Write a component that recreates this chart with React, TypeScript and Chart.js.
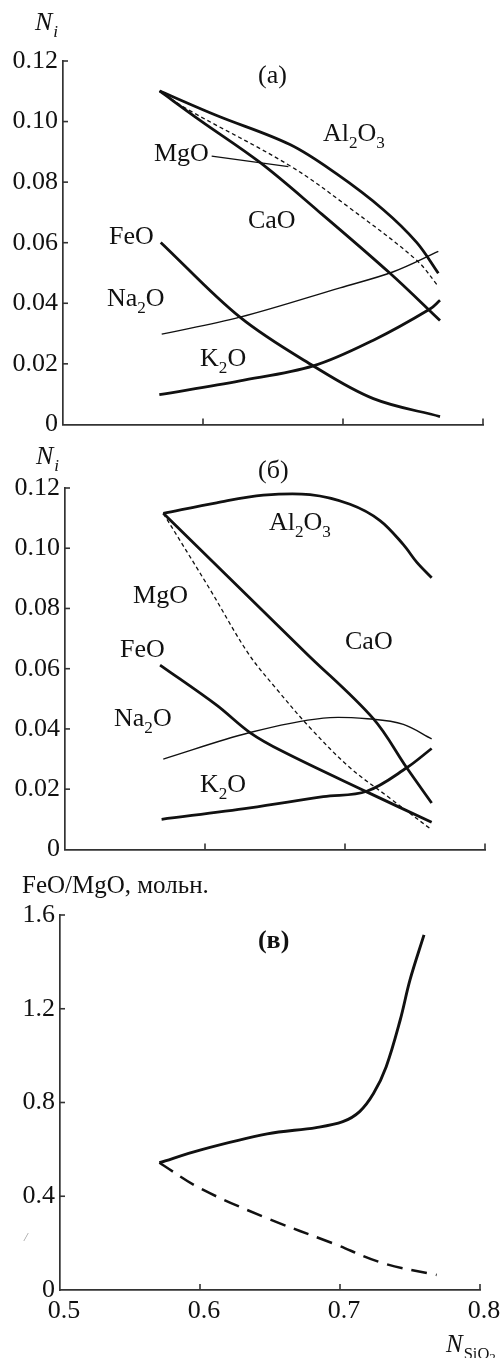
import React, { useEffect, useRef } from 'react';
import { Chart, registerables } from 'chart.js';

Chart.register(...registerables);

const FONT = '"Liberation Serif", "Times New Roman", serif';
const INK = '#111111';
const AXIS = '#333333';
const FS = 26;

// ---- tick values ----
const yTicksNi = [0, 0.02, 0.04, 0.06, 0.08, 0.1, 0.12];
const yTicksRatio = [0, 0.4, 0.8, 1.2, 1.6];
const xTicks = [0.5, 0.6, 0.7, 0.8];

// ---- panel (а) ----
const aAl2O3X = [0.569, 0.6098, 0.6621, 0.6955, 0.7288, 0.7526, 0.7681];
const aAl2O3Y = [0.1101, 0.102, 0.0924, 0.0827, 0.0709, 0.0601, 0.0499];
const aCaOX = [0.569, 0.5979, 0.6407, 0.6812, 0.7336, 0.7693];
const aCaOY = [0.1101, 0.1004, 0.0865, 0.0709, 0.0499, 0.0343];
const aMgOX = [0.569, 0.5883, 0.6621, 0.705, 0.7526, 0.7681];
const aMgOY = [0.1101, 0.1042, 0.0854, 0.0714, 0.0542, 0.0456];
const aFeOX = [0.5698, 0.6264, 0.6788, 0.7217, 0.7693];
const aFeOY = [0.0601, 0.0354, 0.0193, 0.0085, 0.0026];
const aNa2OX = [0.5705, 0.6264, 0.6979, 0.736, 0.7681];
const aNa2OY = [0.0298, 0.0354, 0.0451, 0.0504, 0.0571];
const aK2OX = [0.5688, 0.6264, 0.6788, 0.7217, 0.7621, 0.7693];
const aK2OY = [0.0098, 0.0144, 0.0193, 0.0278, 0.0381, 0.041];

// ---- panel (б) ----
const bAl2O3X = [0.5702, 0.6083, 0.6417, 0.675, 0.7036, 0.725, 0.7417, 0.7512, 0.7619];
const bAl2O3Y = [0.1116, 0.1151, 0.1176, 0.1178, 0.1146, 0.1092, 0.1012, 0.0954, 0.0902];
const bCaOX = [0.5702, 0.6726, 0.7202, 0.7441, 0.7619];
const bCaOY = [0.1116, 0.065, 0.0434, 0.0271, 0.0154];
const bMgOX = [0.5702, 0.6036, 0.631, 0.6512, 0.675, 0.7036, 0.7321, 0.7619];
const bMgOY = [0.1116, 0.0863, 0.065, 0.0532, 0.0404, 0.0271, 0.017, 0.0065];
const bFeOX = [0.5679, 0.6083, 0.6321, 0.656, 0.7155, 0.7619];
const bFeOY = [0.0612, 0.0479, 0.0388, 0.0324, 0.0191, 0.009];
const bNa2OX = [0.5702, 0.6321, 0.6845, 0.7202, 0.7417, 0.7619];
const bNa2OY = [0.03, 0.0388, 0.0436, 0.0432, 0.0415, 0.0367];
const bK2OX = [0.569, 0.6321, 0.6845, 0.7155, 0.7441, 0.7619];
const bK2OY = [0.01, 0.0138, 0.0175, 0.0193, 0.0271, 0.0335];

// ---- panel (в) ----
const cSolidX = [0.571, 0.6, 0.648, 0.683, 0.702, 0.714, 0.724, 0.733, 0.743, 0.75, 0.76];
const cSolidY = [0.543, 0.597, 0.666, 0.693, 0.718, 0.761, 0.839, 0.953, 1.152, 1.323, 1.515];
const cDashX = [0.571, 0.6, 0.648, 0.695, 0.731, 0.769];
const cDashY = [0.543, 0.434, 0.306, 0.199, 0.114, 0.064];

// ---- curve labels (data coordinates) ----
const aLabels = [
  { t: '(а)', x: 0.6393, y: 0.1129 },
  { t: 'Al_2O_3', x: 0.6857, y: 0.0935 },
  { t: 'MgO', x: 0.565, y: 0.0871 },
  { t: 'CaO', x: 0.6321, y: 0.0648 },
  { t: 'FeO', x: 0.5329, y: 0.0597 },
  { t: 'Na_2O', x: 0.5314, y: 0.039 },
  { t: 'K_2O', x: 0.5979, y: 0.0194 },
];
const aLeaderX = [0.6062, 0.661];
const aLeaderY = [0.0886, 0.0851];
const bLabels = [
  { t: '(б)', x: 0.6379, y: 0.1232 },
  { t: 'Al_2O_3', x: 0.6457, y: 0.1059 },
  { t: 'MgO', x: 0.5486, y: 0.0819 },
  { t: 'CaO', x: 0.7, y: 0.0666 },
  { t: 'FeO', x: 0.5393, y: 0.064 },
  { t: 'Na_2O', x: 0.535, y: 0.041 },
  { t: 'K_2O', x: 0.5964, y: 0.0189 },
];
const cLabels = [{ t: '(в)', x: 0.6414, y: 1.459, bold: true }];

type Run = { t: string; sub?: number; it?: boolean };

function parseRuns(s: string): Run[] {
  const out: Run[] = [];
  let buf = '';
  for (let i = 0; i < s.length; i++) {
    if (s[i] === '_' && i + 1 < s.length) {
      if (buf) out.push({ t: buf });
      buf = '';
      out.push({ t: s[i + 1], sub: 1 });
      i++;
    } else buf += s[i];
  }
  if (buf) out.push({ t: buf });
  return out;
}

function drawRich(ctx: CanvasRenderingContext2D, x: number, y: number, runs: Run[], size: number, bold?: boolean) {
  let cx = x;
  for (const r of runs) {
    const lvl = r.sub || 0;
    const fs = lvl === 0 ? size : lvl === 1 ? size * 0.66 : size * 0.52;
    const dy = lvl === 0 ? 0 : lvl === 1 ? size * 0.27 : size * 0.4;
    ctx.font = `${r.it ? 'italic ' : ''}${bold ? 'bold ' : ''}${fs}px ${FONT}`;
    ctx.fillText(r.t, cx, y + dy);
    cx += ctx.measureText(r.t).width + (r.it && lvl === 0 ? 1 : 0);
  }
}

const annotPlugin = {
  id: 'annot',
  afterDraw(chart: any, _a: any, opts: any) {
    const ctx: CanvasRenderingContext2D = chart.ctx;
    const { left, top, bottom, right } = chart.chartArea;
    const xs = chart.scales.x;
    const ys = chart.scales.y;
    ctx.save();
    ctx.strokeStyle = AXIS;
    ctx.lineWidth = 1.6;
    ys.ticks.forEach((t: any) => {
      if (Math.abs(t.value - ys.min) < 1e-9) return;
      const py = ys.getPixelForValue(t.value);
      ctx.beginPath();
      ctx.moveTo(left, py);
      ctx.lineTo(left + 5, py);
      ctx.stroke();
    });
    xs.ticks.forEach((t: any) => {
      if (Math.abs(t.value - xs.min) < 1e-9) return;
      const px = xs.getPixelForValue(t.value);
      ctx.beginPath();
      ctx.moveTo(px, bottom);
      ctx.lineTo(px, bottom - 6);
      ctx.stroke();
    });
    if (opts.leaderX) {
      ctx.strokeStyle = INK;
      ctx.lineWidth = 1.3;
      ctx.beginPath();
      ctx.moveTo(xs.getPixelForValue(opts.leaderX[0]), ys.getPixelForValue(opts.leaderY[0]));
      ctx.lineTo(xs.getPixelForValue(opts.leaderX[1]), ys.getPixelForValue(opts.leaderY[1]));
      ctx.stroke();
    }
    ctx.fillStyle = INK;
    ctx.textAlign = 'left';
    ctx.textBaseline = 'alphabetic';
    (opts.labels || []).forEach((l: any) => {
      drawRich(ctx, xs.getPixelForValue(l.x), ys.getPixelForValue(l.y), parseRuns(l.t), FS, l.bold);
    });
    if (opts.yTitle === 'Ni') {
      drawRich(ctx, left + opts.tdx, top + opts.tdy, [{ t: 'N', it: true }, { t: 'i', it: true, sub: 1 }], FS);
    } else if (opts.yTitle) {
      drawRich(ctx, left + opts.tdx, top + opts.tdy, [{ t: opts.yTitle }], 25);
    }
    if (opts.xTitle) {
      drawRich(ctx, right - 34, bottom + 62, [{ t: 'N', it: true }, { t: 'SiO', sub: 1 }, { t: '2', sub: 2 }], 25);
    }
    if (opts.stray) {
      ctx.fillStyle = '#9a9a9a';
      ctx.font = `italic 13px ${FONT}`;
      ctx.fillText('/', left - 36, top + 326);
    }
    ctx.restore();
  },
};

function pts(xs: number[], ys: number[]) {
  return xs.map((x, i) => ({ x, y: ys[i] }));
}

function ds(xs: number[], ys: number[], width: number, dash: number[] = []) {
  return {
    data: pts(xs, ys),
    borderColor: INK,
    borderWidth: width,
    borderDash: dash,
    pointRadius: 0,
    showLine: true,
    fill: false,
    tension: 0.35,
  };
}

type PanelCfg = {
  height: number;
  padTop: number;
  padRight: number;
  yW: number;
  xH: number;
  yMax: number;
  yTicks: number[];
  yDigits: number;
  showXLabels: boolean;
  datasets: any[];
  annot: any;
};

function Panel({ cfg, top }: { cfg: PanelCfg; top: number }) {
  const ref = useRef<HTMLCanvasElement | null>(null);
  useEffect(() => {
    if (!ref.current) return;
    const chart = new Chart(ref.current, {
      type: 'scatter',
      data: { datasets: cfg.datasets },
      plugins: [annotPlugin as any],
      options: {
        animation: false,
        responsive: false,
        maintainAspectRatio: false,
        layout: { padding: { top: cfg.padTop, right: cfg.padRight, left: 0, bottom: 0 } },
        plugins: {
          legend: { display: false },
          tooltip: { enabled: false },
          annot: cfg.annot,
        } as any,
        scales: {
          x: {
            type: 'linear',
            min: 0.5,
            max: 0.8,
            afterBuildTicks: (s: any) => {
              s.ticks = xTicks.map((v) => ({ value: v }));
            },
            afterFit: (s: any) => {
              s.height = cfg.xH;
            },
            grid: { display: false, drawTicks: false },
            border: { display: true, color: AXIS, width: 1.7 },
            ticks: {
              display: cfg.showXLabels,
              color: INK,
              padding: 6,
              labelOffset: 4,
              maxRotation: 0,
              font: { family: FONT, size: FS },
              callback: (v: any) => Number(v).toFixed(1),
            },
          },
          y: {
            type: 'linear',
            min: 0,
            max: cfg.yMax,
            afterBuildTicks: (s: any) => {
              s.ticks = cfg.yTicks.map((v) => ({ value: v }));
            },
            afterFit: (s: any) => {
              s.width = cfg.yW;
            },
            grid: { display: false, drawTicks: false },
            border: { display: true, color: AXIS, width: 1.7 },
            ticks: {
              color: INK,
              padding: 5,
              font: { family: FONT, size: FS },
              callback: (v: any) => (Number(v) === 0 ? '0' : Number(v).toFixed(cfg.yDigits)),
            },
          },
        },
      },
    });
    return () => chart.destroy();
  }, []);
  return (
    <canvas
      ref={ref}
      width={504}
      height={cfg.height}
      style={{ position: 'absolute', left: 0, top, width: 504, height: cfg.height, display: 'block' }}
    />
  );
}

const panelA: PanelCfg = {
  height: 445,
  padTop: 61,
  padRight: 21,
  yW: 63,
  xH: 12,
  yMax: 0.12,
  yTicks: yTicksNi,
  yDigits: 2,
  showXLabels: false,
  datasets: [
    ds(aAl2O3X, aAl2O3Y, 2.8),
    ds(aCaOX, aCaOY, 2.8),
    ds(aMgOX, aMgOY, 1.3, [4, 3]),
    ds(aFeOX, aFeOY, 2.8),
    ds(aNa2OX, aNa2OY, 1.4),
    ds(aK2OX, aK2OY, 2.8),
  ],
  annot: { labels: aLabels, leaderX: aLeaderX, leaderY: aLeaderY, yTitle: 'Ni', tdx: -28, tdy: -31 },
};

const panelB: PanelCfg = {
  height: 425,
  padTop: 43,
  padRight: 19,
  yW: 65,
  xH: 7,
  yMax: 0.12,
  yTicks: yTicksNi,
  yDigits: 2,
  showXLabels: false,
  datasets: [
    ds(bAl2O3X, bAl2O3Y, 2.8),
    ds(bCaOX, bCaOY, 2.8),
    ds(bMgOX, bMgOY, 1.3, [4, 3]),
    ds(bFeOX, bFeOY, 2.8),
    ds(bNa2OX, bNa2OY, 1.4),
    ds(bK2OX, bK2OY, 2.8),
  ],
  annot: { labels: bLabels, yTitle: 'Ni', tdx: -29, tdy: -24 },
};

const panelC: PanelCfg = {
  height: 488,
  padTop: 45,
  padRight: 24,
  yW: 60,
  xH: 68,
  yMax: 1.6,
  yTicks: yTicksRatio,
  yDigits: 1,
  showXLabels: true,
  datasets: [ds(cSolidX, cSolidY, 2.9), ds(cDashX, cDashY, 2.5, [16, 9])],
  annot: { labels: cLabels, yTitle: 'FeO/MgO, мольн.', tdx: -38, tdy: -22, xTitle: true, stray: true },
};

export default function App() {
  return (
    <div style={{ position: 'absolute', left: 0, top: 0, width: 504, height: 1358, background: '#fff' }}>
      <Panel cfg={panelA} top={0} />
      <Panel cfg={panelB} top={445} />
      <Panel cfg={panelC} top={870} />
    </div>
  );
}
